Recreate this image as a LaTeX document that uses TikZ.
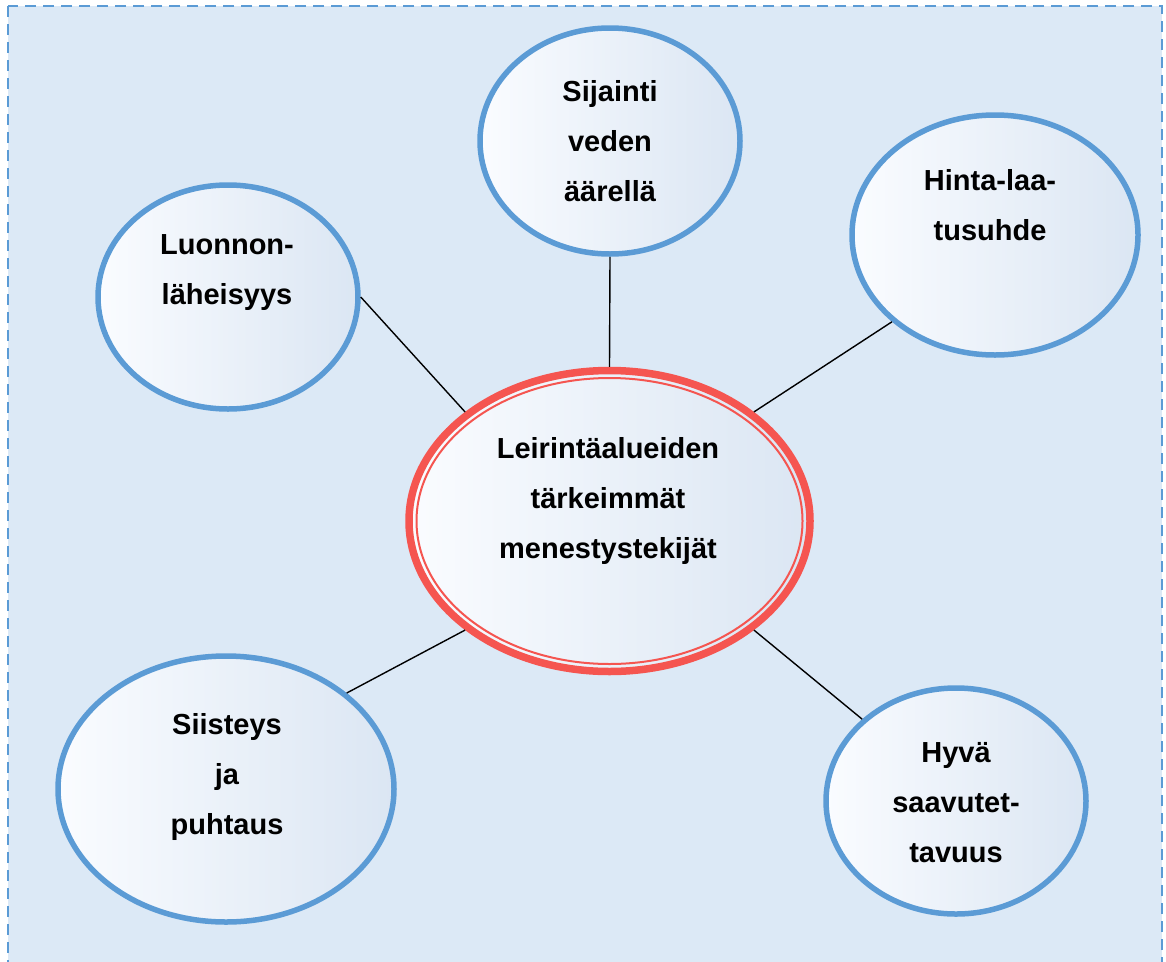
\documentclass[tikz,border=0pt]{standalone}
\usepackage{fontspec}
\setmainfont{Liberation Sans}
\usetikzlibrary{shapes.geometric}
\definecolor{bubbleblue}{RGB}{91,155,213}
\definecolor{ringred}{RGB}{245,85,80}
\definecolor{paper}{RGB}{220,233,246}
\definecolor{fillleft}{RGB}{250,252,255}
\definecolor{fillright}{RGB}{219,230,243}

\begin{document}
\begin{tikzpicture}[x=1pt,y=-1pt,
 bubble/.style={ellipse,draw=bubbleblue,line width=5.5pt,inner sep=0pt,left color=fillleft,right color=fillright},
 txt/.style={align=center,font=\fontsize{29}{50}\selectfont\bfseries},
 ln/.style={line width=1.4pt}]
\clip (0,0) rectangle (1166,961);
\fill[white] (0,0) rectangle (1166,961);
\draw[bubbleblue,fill=paper,line width=2.6pt,dash pattern=on 11pt off 7pt] (8,6) rectangle (1162,990);
\node[bubble,minimum width=260pt,minimum height=224pt] (lu) at (228,297) {};
\node[txt] (lu-t) at (227,273) {Luonnon-\\läheisyys};
\node[bubble,minimum width=260pt,minimum height=226pt] (si) at (610,141) {};
\node[txt] (si-t) at (610,141) {Sijainti\\veden\\äärellä};
\node[bubble,minimum width=286pt,minimum height=240pt] (hi) at (995,235) {};
\node[txt] (hi-t) at (990,205) {Hinta-laa-\\tusuhde};
\node[bubble,minimum width=336pt,minimum height=266pt] (sii) at (226,789) {};
\node[txt] (sii-t) at (227,777) {Siisteys\\ja\\puhtaus};
\node[bubble,minimum width=260pt,minimum height=226pt] (hy) at (956,801) {};
\node[txt] (hy-t) at (956,803) {Hyvä\\saavutet-\\tavuus};
\node[ellipse,draw=ringred,line width=7.5pt,inner sep=0pt,minimum width=401pt,minimum height=301pt,
 left color=fillleft,right color=fillright] (c) at (609.5,521) {};
\draw[ringred,line width=2pt] (c.center) ellipse [x radius=193, y radius=143];
\node[txt] (c-t) at (608,501) {Leirintäalueiden\\tärkeimmät\\menestystekijät};
\draw[ln] (lu.east) -- (c.north west); \draw[ln] (si.south) -- (c.north);
\draw[ln] (hi.south west) -- (c.north east);
\draw[ln] (sii.north east) -- (c.south west); \draw[ln] (hy.north west) -- (c.south east);
\end{tikzpicture}
\end{document}
